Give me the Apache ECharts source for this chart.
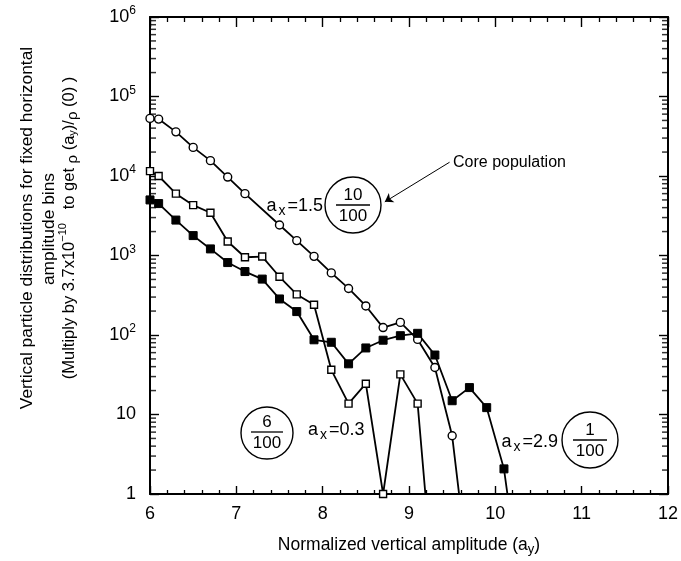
<!DOCTYPE html>
<html>
<head>
<meta charset="utf-8">
<script src="https://cdn.jsdelivr.net/npm/echarts@6/dist/echarts.min.js"></script>
<style>
html, body { margin: 0; padding: 0; background: #fff; }
#chart { width: 681px; height: 561px; }
</style>
</head>
<body>
<div id="chart"></div>
<script>
// a_x = 1.5 (core population) - open circles
const circleX = [6.0, 6.1, 6.3, 6.5, 6.7, 6.9, 7.1, 7.5, 7.7, 7.9, 8.1, 8.3, 8.5, 8.7, 8.9, 9.1, 9.3, 9.5, 9.7];
const circleY = [53000, 52000, 35900, 22900, 15600, 9700, 6000, 2420, 1540, 975, 604, 385, 232, 124, 144, 88, 39, 5.4, 0.08];

// a_x = 0.3 - open squares
const openSqX = [6.0, 6.1, 6.3, 6.5, 6.7, 6.9, 7.1, 7.3, 7.5, 7.7, 7.9, 8.1, 8.3, 8.5, 8.7, 8.9, 9.1, 9.3];
const openSqY = [11500, 10000, 6000, 4300, 3450, 1500, 950, 970, 540, 324, 240, 36.5, 13.7, 24.4, 1, 32, 13.7, 0.04];

// a_x = 2.9 - filled squares
const fillSqX = [6.0, 6.1, 6.3, 6.5, 6.7, 6.9, 7.1, 7.3, 7.5, 7.7, 7.9, 8.1, 8.3, 8.5, 8.7, 8.9, 9.1, 9.3, 9.5, 9.7, 9.9, 10.1, 10.3];
const fillSqY = [5000, 4500, 2790, 1780, 1210, 815, 628, 505, 284, 197, 87, 81, 43.4, 68.7, 86, 98, 105, 56, 14.9, 21.8, 12.2, 2.07, 0.055];

// log minor ticks 2..9 in each decade
const minorLogTicks = [];
for (let d = 0; d < 6; d++) {
  for (let k = 2; k <= 9; k++) minorLogTicks.push(k * Math.pow(10, d));
}

const FONT = "'Liberation Sans', Arial, sans-serif";

function pairs(xs, ys) {
  return xs.map((x, i) => [x, ys[i]]);
}

const chart = echarts.init(document.getElementById('chart'));

const lineBase = {
  type: 'line',
  clip: true,
  animation: false,
  lineStyle: { color: '#000', width: 1.8 },
  symbolSize: 8,
  z: 3
};

// short marks drawn at the frame for the log minor ticks
const tickBase = {
  type: 'scatter',
  silent: true,
  clip: false,
  animation: false,
  symbol: 'rect',
  symbolSize: [6, 1.5],
  itemStyle: { color: '#000' },
  z: 2
};

const xAxisBase = {
  type: 'value', min: 6, max: 12, interval: 1,
  axisLine: { onZero: false, lineStyle: { color: '#000', width: 2 } },
  splitLine: { show: false },
  minorSplitLine: { show: false }
};

const yAxisBase = {
  type: 'log', logBase: 10, min: 1, max: 1000000, splitNumber: 6,
  axisLine: { onZero: false, lineStyle: { color: '#000', width: 2 } },
  splitLine: { show: false },
  minorTick: { show: false }
};

const sup = { fontSize: 12, fontFamily: FONT, color: '#000', padding: [0, 0, 12, 0] };

chart.setOption({
  backgroundColor: '#fff',
  animation: false,
  grid: { left: 150, right: 9, top: 17, bottom: 63 },
  xAxis: [
    Object.assign({}, xAxisBase, {
      position: 'bottom',
      axisTick: { inside: true, length: 8, lineStyle: { color: '#000', width: 1.4 } },
      minorTick: { show: true, splitNumber: 5, length: 4, lineStyle: { color: '#000', width: 1.3 } },
      axisLabel: { fontSize: 18, color: '#000', fontFamily: FONT, margin: 11 },
      name: 'Normalized vertical amplitude (a{s|y})',
      nameLocation: 'middle',
      nameGap: 41,
      nameTextStyle: {
        fontSize: 17.5, color: '#000', fontFamily: FONT,
        rich: { s: { fontSize: 13, fontFamily: FONT, color: '#000', padding: [8, 0, 0, 0] } }
      }
    }),
    Object.assign({}, xAxisBase, {
      position: 'top',
      axisTick: { inside: true, length: 10, lineStyle: { color: '#000', width: 1.4 } },
      minorTick: { show: true, splitNumber: 5, length: 5, lineStyle: { color: '#000', width: 1.3 } },
      axisLabel: { show: false }
    })
  ],
  yAxis: [
    Object.assign({}, yAxisBase, {
      position: 'left',
      axisTick: { inside: true, length: 9, lineStyle: { color: '#000', width: 1.4 } },
      axisLabel: {
        fontSize: 18, color: '#000', fontFamily: FONT, margin: 14,
        formatter: function (v) {
          const e = Math.round(Math.log10(v));
          if (e === 0) return '1';
          if (e === 1) return '10';
          return '10{sup|' + e + '}';
        },
        rich: { sup: sup }
      }
    }),
    Object.assign({}, yAxisBase, {
      position: 'right',
      axisTick: { inside: true, length: 9, lineStyle: { color: '#000', width: 1.4 } },
      axisLabel: { show: false }
    })
  ],
  series: [
    Object.assign({}, lineBase, {
      name: 'a_x=1.5',
      data: pairs(circleX, circleY),
      symbol: 'circle',
      itemStyle: { color: '#fff', borderColor: '#000', borderWidth: 1.4 },
      markLine: {
        silent: true,
        symbol: ['none', 'arrow'],
        symbolSize: 8,
        label: { show: false },
        lineStyle: { color: '#000', width: 1, type: 'solid' },
        data: [[{ coord: [9.47, 14900] }, { coord: [8.72, 4730] }]]
      }
    }),
    Object.assign({}, lineBase, {
      name: 'a_x=0.3',
      data: pairs(openSqX, openSqY),
      symbol: 'rect',
      symbolSize: 7,
      itemStyle: { color: '#fff', borderColor: '#000', borderWidth: 1.4 }
    }),
    Object.assign({}, lineBase, {
      name: 'a_x=2.9',
      data: pairs(fillSqX, fillSqY),
      symbol: 'rect',
      symbolSize: 8,
      itemStyle: { color: '#000', borderColor: '#000', borderWidth: 1 }
    }),
    // minor log ticks on the left and right frame
    Object.assign({}, tickBase, {
      data: minorLogTicks.map(v => [6, v]),
      symbolOffset: [3, 0]
    }),
    Object.assign({}, tickBase, {
      data: minorLogTicks.map(v => [12, v]),
      symbolOffset: [-3, 0]
    })
  ],
  graphic: [
    // y-axis title, three rotated lines
    {
      type: 'text', x: 27, y: 228, rotation: Math.PI / 2,
      style: { text: 'Vertical particle distributions for fixed horizontal', font: '17.4px ' + FONT, fill: '#000', align: 'center', verticalAlign: 'middle' }
    },
    {
      type: 'text', x: 49, y: 229, rotation: Math.PI / 2,
      style: { text: 'amplitude bins', font: '17.4px ' + FONT, fill: '#000', align: 'center', verticalAlign: 'middle' }
    },
    {
      type: 'text', x: 69, y: 228, rotation: Math.PI / 2,
      style: {
        text: '(Multiply by 3.7x10{sup|\u221210}   to get {lo|\u03c1} (a{sub|y})/{lo|\u03c1} (0) )',
        font: '16.5px ' + FONT, fill: '#000', align: 'center', verticalAlign: 'middle',
        rich: {
          sup: { fontSize: 11, fontFamily: FONT, fill: '#000', padding: [0, 0, 12, 0] },
          sub: { fontSize: 11, fontFamily: FONT, fill: '#000', padding: [8, 0, 0, 0] },
          lo: { fontSize: 15, fontFamily: FONT, fill: '#000', padding: [8, 0, 0, 0] }
        }
      }
    },
    // Core population label
    {
      type: 'text', x: 453, y: 163,
      style: { text: 'Core population', font: '16px ' + FONT, fill: '#000', align: 'left', verticalAlign: 'middle' }
    },
    // a_x = 1.5 (10/100)
    {
      type: 'text', x: 323, y: 206,
      style: {
        text: 'a{s|x}=1.5', font: '18px ' + FONT, fill: '#000', align: 'right', verticalAlign: 'middle',
        rich: { s: { fontSize: 14, fontFamily: FONT, fill: '#000', padding: [10, 2, 0, 2] } }
      }
    },
    { type: 'circle', shape: { cx: 353, cy: 205, r: 28 }, style: { fill: null, stroke: '#000', lineWidth: 1.4 } },
    { type: 'text', x: 353, y: 195, style: { text: '10', font: '17px ' + FONT, fill: '#000', align: 'center', verticalAlign: 'middle' } },
    { type: 'line', shape: { x1: 336, y1: 205, x2: 370, y2: 205 }, style: { stroke: '#000', lineWidth: 1.3 } },
    { type: 'text', x: 353, y: 216, style: { text: '100', font: '17px ' + FONT, fill: '#000', align: 'center', verticalAlign: 'middle' } },
    // (6/100) a_x = 0.3
    { type: 'circle', shape: { cx: 267, cy: 433, r: 26 }, style: { fill: null, stroke: '#000', lineWidth: 1.4 } },
    { type: 'text', x: 267, y: 422, style: { text: '6', font: '17px ' + FONT, fill: '#000', align: 'center', verticalAlign: 'middle' } },
    { type: 'line', shape: { x1: 251, y1: 432, x2: 283, y2: 432 }, style: { stroke: '#000', lineWidth: 1.3 } },
    { type: 'text', x: 267, y: 443, style: { text: '100', font: '17px ' + FONT, fill: '#000', align: 'center', verticalAlign: 'middle' } },
    {
      type: 'text', x: 308, y: 430,
      style: {
        text: 'a{s|x}=0.3', font: '18px ' + FONT, fill: '#000', align: 'left', verticalAlign: 'middle',
        rich: { s: { fontSize: 14, fontFamily: FONT, fill: '#000', padding: [10, 2, 0, 2] } }
      }
    },
    // a_x = 2.9 (1/100)
    {
      type: 'text', x: 558, y: 442,
      style: {
        text: 'a{s|x}=2.9', font: '18px ' + FONT, fill: '#000', align: 'right', verticalAlign: 'middle',
        rich: { s: { fontSize: 14, fontFamily: FONT, fill: '#000', padding: [10, 2, 0, 2] } }
      }
    },
    { type: 'circle', shape: { cx: 590, cy: 440, r: 28 }, style: { fill: null, stroke: '#000', lineWidth: 1.4 } },
    { type: 'text', x: 590, y: 430, style: { text: '1', font: '17px ' + FONT, fill: '#000', align: 'center', verticalAlign: 'middle' } },
    { type: 'line', shape: { x1: 573, y1: 440, x2: 607, y2: 440 }, style: { stroke: '#000', lineWidth: 1.3 } },
    { type: 'text', x: 590, y: 451, style: { text: '100', font: '17px ' + FONT, fill: '#000', align: 'center', verticalAlign: 'middle' } }
  ]
});
</script>
</body>
</html>
